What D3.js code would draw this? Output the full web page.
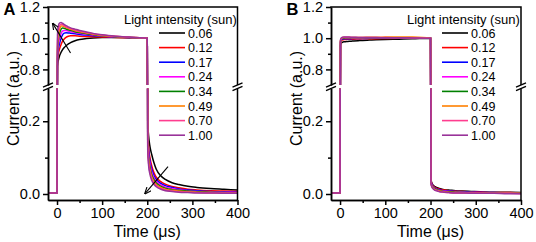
<!DOCTYPE html>
<html>
<head>
<meta charset="utf-8">
<script src="https://cdn.jsdelivr.net/npm/d3@7"></script>
<style>
  body { margin: 0; background: #fff; }
  svg { display: block; font-family: "Liberation Sans", Arial, sans-serif; }
</style>
</head>
<body>
<div id="chart"></div>
<script>
// time points (µs) shared by every trace
var times = [-20, 0, 1, 3, 6, 9, 12, 16, 20, 25, 30, 40, 50, 65, 80, 100, 130, 160, 200,
             201, 203, 206, 210, 215, 220, 230, 240, 255, 270, 290, 310, 340, 370, 400];

var intensities = ["0.06", "0.12", "0.17", "0.24", "0.34", "0.49", "0.70", "1.00"];
var colors = ["#000000", "#ff0000", "#0000ff", "#ff00ff", "#008000", "#ff8000", "#ff3d8f", "#993399"];

// panel A, normalised current, one array per light intensity
var currentA = [
  [0.003, 0.003, 0.82, 0.86, 0.89, 0.91, 0.925, 0.94, 0.952, 0.963, 0.972, 0.984, 0.992, 0.998, 1.002, 1.004, 1.004, 1.003, 1.0,
   0.2, 0.16, 0.13, 0.108, 0.085, 0.068, 0.05, 0.04, 0.031, 0.026, 0.021, 0.018, 0.015, 0.013, 0.011],
  [0.003, 0.003, 0.86, 0.9, 0.935, 0.96, 0.98, 0.995, 1.005, 1.012, 1.015, 1.015, 1.013, 1.011, 1.009, 1.007, 1.005, 1.003, 1.0,
   0.18, 0.13, 0.1, 0.077, 0.058, 0.046, 0.034, 0.027, 0.021, 0.017, 0.013, 0.011, 0.009, 0.008, 0.007],
  [0.003, 0.003, 0.88, 0.93, 0.97, 1.0, 1.02, 1.032, 1.035, 1.034, 1.032, 1.028, 1.024, 1.02, 1.016, 1.012, 1.008, 1.004, 1.0,
   0.17, 0.12, 0.09, 0.068, 0.05, 0.04, 0.029, 0.023, 0.018, 0.014, 0.011, 0.009, 0.007, 0.006, 0.005],
  [0.003, 0.003, 0.9, 0.96, 1.0, 1.03, 1.045, 1.05, 1.049, 1.046, 1.042, 1.036, 1.031, 1.025, 1.02, 1.014, 1.009, 1.005, 1.0,
   0.16, 0.11, 0.082, 0.06, 0.044, 0.035, 0.025, 0.019, 0.015, 0.012, 0.009, 0.007, 0.006, 0.005, 0.004],
  [0.003, 0.003, 0.92, 0.99, 1.035, 1.058, 1.066, 1.064, 1.059, 1.054, 1.05, 1.042, 1.036, 1.029, 1.023, 1.016, 1.01, 1.005, 1.0,
   0.15, 0.1, 0.074, 0.053, 0.039, 0.03, 0.021, 0.016, 0.012, 0.01, 0.008, 0.006, 0.005, 0.004, 0.003],
  [0.003, 0.003, 0.95, 1.02, 1.06, 1.078, 1.079, 1.074, 1.068, 1.062, 1.057, 1.048, 1.041, 1.033, 1.026, 1.018, 1.011, 1.006, 1.0,
   0.14, 0.093, 0.067, 0.047, 0.034, 0.026, 0.018, 0.013, 0.01, 0.008, 0.006, 0.005, 0.004, 0.003, 0.003],
  [0.003, 0.003, 0.98, 1.05, 1.08, 1.09, 1.088, 1.08, 1.073, 1.067, 1.062, 1.053, 1.046, 1.037, 1.029, 1.02, 1.012, 1.006, 1.0,
   0.13, 0.085, 0.06, 0.042, 0.03, 0.023, 0.015, 0.011, 0.008, 0.006, 0.005, 0.004, 0.003, 0.003, 0.002],
  [0.003, 0.003, 1.02, 1.08, 1.098, 1.1, 1.096, 1.088, 1.08, 1.073, 1.066, 1.058, 1.05, 1.04, 1.031, 1.022, 1.013, 1.007, 1.0,
   0.12, 0.078, 0.054, 0.037, 0.026, 0.02, 0.013, 0.009, 0.007, 0.005, 0.004, 0.003, 0.003, 0.002, 0.002]
];

// panel B
var currentB = [
  [0.003, 0.003, 0.955, 0.97, 0.975, 0.977, 0.978, 0.979, 0.98, 0.981, 0.982, 0.984, 0.986, 0.988, 0.99, 0.992, 0.994, 0.996, 1.0,
   0.04, 0.03, 0.024, 0.02, 0.017, 0.015, 0.012, 0.011, 0.009, 0.008, 0.007, 0.006, 0.005, 0.005, 0.004],
  [0.003, 0.003, 0.97, 0.985, 0.99, 0.991, 0.992, 0.993, 0.993, 0.994, 0.994, 0.995, 0.996, 0.997, 0.997, 0.998, 0.999, 0.999, 1.0,
   0.038, 0.028, 0.022, 0.018, 0.015, 0.013, 0.011, 0.009, 0.008, 0.007, 0.006, 0.005, 0.004, 0.004, 0.003],
  [0.003, 0.003, 0.975, 0.99, 0.995, 0.996, 0.997, 0.997, 0.997, 0.997, 0.998, 0.998, 0.998, 0.999, 0.999, 0.999, 1.0, 1.0, 1.0,
   0.036, 0.026, 0.02, 0.016, 0.013, 0.011, 0.009, 0.008, 0.007, 0.006, 0.005, 0.004, 0.004, 0.003, 0.003],
  [0.003, 0.003, 0.98, 0.995, 1.0, 1.002, 1.002, 1.002, 1.002, 1.002, 1.002, 1.002, 1.002, 1.002, 1.002, 1.002, 1.002, 1.001, 1.0,
   0.035, 0.025, 0.019, 0.015, 0.012, 0.01, 0.008, 0.007, 0.006, 0.005, 0.004, 0.004, 0.003, 0.003, 0.002],
  [0.003, 0.003, 0.98, 0.995, 1.0, 1.002, 1.003, 1.003, 1.003, 1.003, 1.003, 1.003, 1.003, 1.003, 1.003, 1.003, 1.003, 1.002, 1.0,
   0.033, 0.023, 0.018, 0.014, 0.011, 0.009, 0.007, 0.006, 0.005, 0.004, 0.004, 0.003, 0.003, 0.002, 0.002],
  [0.003, 0.003, 0.985, 1.0, 1.004, 1.005, 1.005, 1.005, 1.005, 1.005, 1.005, 1.005, 1.005, 1.006, 1.006, 1.007, 1.008, 1.007, 1.0,
   0.031, 0.021, 0.016, 0.012, 0.01, 0.008, 0.006, 0.005, 0.004, 0.004, 0.003, 0.003, 0.002, 0.002, 0.002],
  [0.003, 0.003, 0.985, 1.0, 1.005, 1.006, 1.006, 1.006, 1.006, 1.005, 1.005, 1.005, 1.005, 1.004, 1.004, 1.004, 1.003, 1.002, 1.0,
   0.03, 0.02, 0.015, 0.011, 0.009, 0.007, 0.005, 0.004, 0.003, 0.003, 0.003, 0.002, 0.002, 0.002, 0.001],
  [0.003, 0.003, 0.99, 1.003, 1.007, 1.008, 1.008, 1.007, 1.007, 1.006, 1.006, 1.005, 1.005, 1.004, 1.004, 1.003, 1.003, 1.002, 1.0,
   0.029, 0.019, 0.014, 0.01, 0.008, 0.006, 0.005, 0.004, 0.003, 0.003, 0.002, 0.002, 0.002, 0.001, 0.001]
];

var xTicks = [0, 100, 200, 300, 400];
var xMinor = [50, 150, 250, 350];
var yTicksUp = [0.8, 1.0, 1.2];
var yMinorUp = [0.9, 1.1];
var yTicksLo = [0.0, 0.2];
var yMinorLo = [0.1];

var width = 536, height = 242;
var plotTop = 7, plotBottom = 200, breakTop = 85, breakBot = 88.5;

var svg = d3.select("#chart").append("svg")
  .attr("width", width)
  .attr("height", height);

var defs = svg.append("defs");
defs.append("marker")
  .attr("id", "arrow")
  .attr("viewBox", "0 0 10 10")
  .attr("refX", 9).attr("refY", 5)
  .attr("markerWidth", 7).attr("markerHeight", 7)
  .attr("markerUnits", "userSpaceOnUse")
  .attr("orient", "auto")
  .append("path")
  .attr("d", "M0,1 L10,5 L0,9")
  .attr("fill", "none")
  .attr("stroke", "#000")
  .attr("stroke-width", 1.6);

function drawPanel(id, left, right, letter, data, arrows) {
  var g = svg.append("g");

  var x = d3.scaleLinear().domain([-20, 400]).range([left, right]);
  var yUp = d3.scaleLinear().domain([0.7, 1.2]).range([breakTop, plotTop]);
  var yLo = d3.scaleLinear().domain([-0.0165, 0.29]).range([plotBottom, breakBot]);

  defs.append("clipPath").attr("id", "up" + id)
    .append("rect").attr("x", left).attr("y", plotTop)
    .attr("width", right - left).attr("height", breakTop - plotTop);
  defs.append("clipPath").attr("id", "lo" + id)
    .append("rect").attr("x", left).attr("y", breakBot)
    .attr("width", right - left).attr("height", plotBottom - breakBot);

  [["up", yUp], ["lo", yLo]].forEach(function(part) {
    var line = d3.line()
      .x(function(d, i) { return x(times[i]); })
      .y(function(d) { return part[1](d); })
      .curve(d3.curveMonotoneX);
    g.append("g")
      .attr("clip-path", "url(#" + part[0] + id + ")")
      .selectAll("path")
      .data(data)
      .enter().append("path")
        .attr("d", line)
        .attr("fill", "none")
        .attr("stroke", function(d, i) { return colors[i]; })
        .attr("stroke-width", 1.5);
  });

  // axes
  function styleAxis(sel) {
    sel.selectAll("path, line").attr("stroke", "#000").attr("stroke-width", 1.5);
    sel.selectAll("text").attr("fill", "#000").style("font-size", "14.5px");
  }
  g.append("g").call(d3.axisLeft(yUp).tickValues(yTicksUp).tickFormat(d3.format(".1f"))
      .tickSize(5).tickSizeOuter(0).tickPadding(3))
    .attr("transform", "translate(" + left + ",0)").call(styleAxis);
  g.append("g").call(d3.axisLeft(yUp).tickValues(yMinorUp).tickFormat("").tickSize(3).tickSizeOuter(0))
    .attr("transform", "translate(" + left + ",0)").call(styleAxis);
  g.append("g").call(d3.axisLeft(yLo).tickValues(yTicksLo).tickFormat(d3.format(".1f"))
      .tickSize(5).tickSizeOuter(0).tickPadding(3))
    .attr("transform", "translate(" + left + ",0)").call(styleAxis);
  g.append("g").call(d3.axisLeft(yLo).tickValues(yMinorLo).tickFormat("").tickSize(3).tickSizeOuter(0))
    .attr("transform", "translate(" + left + ",0)").call(styleAxis);
  g.append("g").call(d3.axisBottom(x).tickValues(xTicks).tickSize(5).tickSizeOuter(0).tickPadding(3))
    .attr("transform", "translate(0," + plotBottom + ")").call(styleAxis);
  g.append("g").call(d3.axisBottom(x).tickValues(xMinor).tickFormat("").tickSize(3).tickSizeOuter(0))
    .attr("transform", "translate(0," + plotBottom + ")").call(styleAxis);

  // frame top and right (right side broken too)
  g.append("path")
    .attr("d", "M" + (left - 0.75) + "," + plotTop + "H" + right + "V" + breakTop +
               "M" + right + "," + breakBot + "V" + (plotBottom + 0.75))
    .attr("fill", "none").attr("stroke", "#000").attr("stroke-width", 1.5);

  // break marks
  [left, right].forEach(function(bx) {
    [breakTop, breakBot].forEach(function(by) {
      g.append("line")
        .attr("x1", bx - 5).attr("y1", by + 2.2)
        .attr("x2", bx + 5).attr("y2", by - 2.2)
        .attr("stroke", "#000").attr("stroke-width", 1.3);
    });
  });

  // axis titles
  g.append("text")
    .attr("transform", "translate(" + (left - 35) + "," + ((plotTop + plotBottom) / 2 - 5) + ") rotate(-90)")
    .attr("text-anchor", "middle")
    .attr("dy", "0.35em")
    .style("font-size", "16px")
    .text("Current (a.u.)");
  g.append("text")
    .attr("x", x(200)).attr("y", 236.5)
    .attr("text-anchor", "middle")
    .style("font-size", "16px")
    .text("Time (\u03bcs)");
  g.append("text")
    .attr("x", left - 44.5).attr("y", 15)
    .style("font-size", "16.5px").style("font-weight", "bold")
    .text(letter);

  // legend
  var lx = left + 76;
  g.append("text")
    .attr("x", lx).attr("y", 24)
    .style("font-size", "13px")
    .text("Light intensity (sun)");
  var item = g.selectAll(".leg").data(intensities).enter().append("g")
    .attr("transform", function(d, i) { return "translate(0," + (33 + i * 14.6) + ")"; });
  item.append("line")
    .attr("x1", lx + 35).attr("x2", lx + 61)
    .attr("stroke", function(d, i) { return colors[i]; })
    .attr("stroke-width", 1.6);
  item.append("text")
    .attr("x", lx + 64).attr("dy", "0.36em")
    .style("font-size", "12.5px")
    .text(function(d) { return d; });

  // arrows
  arrows.forEach(function(a) {
    var ys = a.lo ? yLo : yUp;
    g.append("line")
      .attr("x1", x(a.t1)).attr("y1", ys(a.v1))
      .attr("x2", x(a.t2)).attr("y2", ys(a.v2))
      .attr("stroke", "#000").attr("stroke-width", 1.1)
      .attr("marker-end", "url(#arrow)");
  });
}

drawPanel("A", 48, 237.5, "A", currentA, [
  {t1: 30, v1: 0.905, t2: -9.5, v2: 1.095, lo: false},
  {t1: 246, v1: 0.075, t2: 195, v2: 0.001, lo: true}
]);
drawPanel("B", 331, 521, "B", currentB, []);
</script>
</body>
</html>
